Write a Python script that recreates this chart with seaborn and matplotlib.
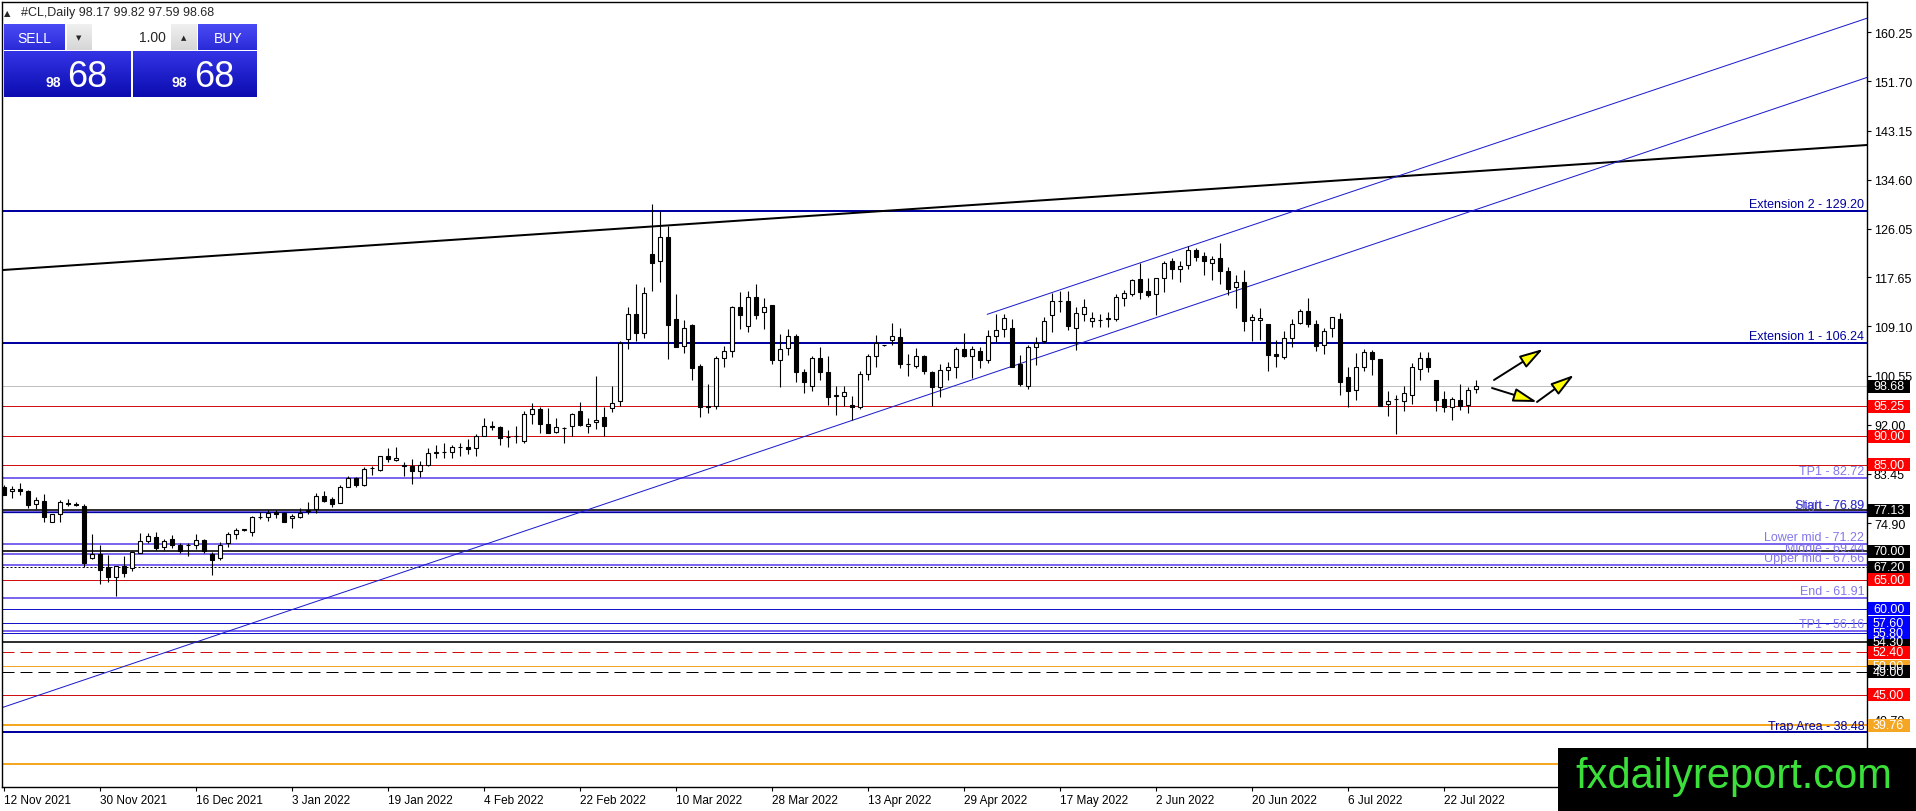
# #CL daily chart (MT4 style) recreated with seaborn / matplotlib
import numpy as np
import pandas as pd
import matplotlib
matplotlib.use("Agg")
import matplotlib.pyplot as plt
import matplotlib.transforms as mtransforms
from matplotlib.patches import Rectangle
from matplotlib.colors import LinearSegmentedColormap
import seaborn as sns

W, H = 1916, 812

# --- candle data, one value per trading day ---
opens = [81.2, 80.5, 80.9, 80.5, 78.3, 78.7, 75.1, 76.5, 78.4, 78.2,
         77.9, 68.9, 69.6, 67.2, 65.6, 67.4, 67.0, 69.7, 71.7, 72.4,
         70.7, 72.1, 71.1, 71.0, 71.1, 72.0, 69.5, 68.9, 71.4, 73.0,
         73.7, 73.3, 75.9, 75.9, 76.8, 76.65, 75.7, 75.9, 77.0, 77.35,
         79.55, 79.0, 78.4, 81.2, 82.7, 81.5, 84.4, 84.2, 86.5, 85.9,
         85.0, 84.9, 84.0, 85.0, 87.1, 87.2, 87.3, 88.1, 88.2, 87.9,
         90.1, 91.7, 91.55, 89.8, 90.0, 89.2, 93.9, 94.7, 92.1, 90.7,
         91.4, 91.7, 94.45, 91.7, 92.4, 93.3, 94.9, 96.1, 106.9, 111.3,
         107.9, 121.7, 120.5, 124.6, 110.4, 105.75, 109.3, 102.3, 95.0, 95.2,
         103.6, 104.9, 112.5, 109.1, 114.3, 111.55, 112.8, 103.3, 105.3, 107.4,
         101.1, 98.8, 103.55, 101.1, 97.0, 97.05, 95.4, 95.0, 100.8, 104.0,
         105.8, 106.8, 107.2, 102.6, 102.3, 103.9, 101.2, 98.5, 101.6, 102.0,
         105.2, 103.9, 104.8, 103.3, 107.4, 108.65, 108.9, 102.6, 98.8, 105.5,
         106.6, 111.0, 113.45, 113.5, 108.9, 111.3, 110.1, 110.3, 110.4, 110.4,
         114.0, 114.7, 117.35, 115.3, 114.7, 117.5, 120.5, 119.1, 119.7, 122.4,
         121.3, 120.1, 121.0, 118.8, 115.9, 116.8, 110.3, 110.15, 109.6, 104.3,
         103.8, 107.1, 109.75, 111.7, 109.6, 105.9, 108.8, 110.4, 100.25, 98.1,
         102.1, 104.7, 103.4, 95.6, 96.5, 96.2, 97.2, 101.7, 103.6, 99.8,
         96.5, 95.0, 96.3, 95.5, 98.17]
highs = [81.5, 81.4, 81.8, 80.6, 79.4, 80.0, 76.5, 78.9, 79.1, 78.5,
         78.2, 73.0, 71.1, 69.3, 67.5, 69.2, 70.1, 73.2, 73.2, 73.3,
         72.2, 72.8, 71.5, 71.5, 73.0, 72.2, 69.9, 71.6, 73.3, 74.0,
         73.9, 76.2, 76.8, 77.1, 77.2, 76.9, 76.5, 77.6, 78.5, 80.2,
         80.4, 79.4, 81.5, 83.1, 82.9, 84.6, 84.9, 86.5, 87.9, 88.1,
         85.5, 86.0, 85.75, 87.9, 88.5, 88.8, 88.5, 88.8, 89.6, 90.4,
         93.1, 92.7, 91.7, 91.0, 91.7, 94.4, 95.7, 95.1, 94.9, 93.2,
         91.6, 94.0, 95.9, 93.2, 100.4, 95.0, 98.8, 106.6, 112.4, 116.5,
         115.9, 130.4, 129.2, 126.6, 114.7, 110.2, 109.5, 102.6, 99.0, 104.0,
         105.75, 112.7, 115.0, 115.2, 116.5, 114.0, 112.8, 107.8, 108.65, 107.8,
         101.7, 103.9, 105.5, 103.9, 98.8, 98.7, 97.05, 101.4, 104.3, 107.6,
         105.9, 109.7, 108.8, 104.3, 105.3, 104.1, 101.4, 102.6, 102.9, 105.6,
         108.0, 105.75, 105.6, 108.5, 111.3, 111.3, 110.4, 104.2, 105.9, 107.2,
         110.7, 114.9, 115.3, 115.3, 112.4, 113.9, 111.55, 111.3, 111.55, 114.7,
         115.4, 117.35, 120.1, 117.6, 117.5, 120.5, 121.0, 120.4, 123.0, 122.7,
         122.0, 121.4, 123.55, 119.4, 118.1, 118.9, 111.3, 112.25, 109.6, 106.7,
         108.35, 110.4, 112.1, 114.0, 110.2, 108.9, 110.7, 111.4, 102.0, 104.4,
         105.2, 105.0, 103.4, 97.9, 97.1, 98.8, 102.7, 104.6, 104.6, 99.8,
         97.9, 96.8, 99.0, 98.5, 99.82]
lows = [79.7, 79.2, 79.8, 77.5, 77.3, 75.1, 75.0, 75.1, 77.9, 77.8,
        67.2, 68.7, 64.3, 64.7, 62.3, 65.6, 66.6, 69.7, 71.4, 70.3,
        70.3, 70.5, 69.7, 69.2, 70.4, 69.7, 65.9, 68.5, 70.8, 72.2,
        73.6, 72.7, 75.6, 75.3, 75.7, 75.0, 74.1, 75.7, 76.4, 76.65,
        78.5, 77.75, 78.4, 81.1, 81.2, 81.4, 83.3, 84.0, 85.6, 85.75,
        83.0, 81.7, 82.85, 84.9, 86.2, 86.2, 86.2, 86.5, 86.9, 86.6,
        90.0, 91.1, 88.4, 88.2, 88.9, 88.9, 92.1, 90.5, 90.5, 90.5,
        88.9, 90.1, 91.8, 90.5, 91.3, 90.1, 94.3, 95.3, 105.2, 106.5,
        107.1, 115.3, 116.9, 103.4, 105.6, 104.4, 99.7, 93.4, 94.0, 94.7,
        102.1, 103.8, 108.6, 108.2, 110.4, 108.65, 102.6, 98.5, 104.1, 99.5,
        97.5, 97.9, 99.7, 95.4, 93.7, 95.3, 92.9, 94.7, 99.7, 102.0,
        105.7, 105.9, 101.8, 100.4, 101.8, 100.8, 95.3, 96.9, 99.7, 100.2,
        103.7, 100.2, 101.8, 102.7, 106.45, 107.2, 102.0, 98.8, 98.2, 102.45,
        106.3, 108.1, 111.55, 108.4, 105.0, 110.1, 109.05, 109.05, 109.05, 110.1,
        112.7, 114.45, 113.9, 114.3, 111.0, 115.0, 117.35, 116.9, 119.1, 120.5,
        118.1, 117.2, 116.5, 114.6, 112.3, 108.25, 106.6, 106.8, 101.4, 102.1,
        103.4, 105.5, 109.5, 109.05, 104.9, 104.3, 107.2, 97.2, 95.0, 96.3,
        101.4, 100.7, 95.3, 93.6, 90.4, 94.45, 95.6, 99.7, 101.1, 94.45,
        94.2, 92.8, 94.55, 94.0, 97.59]
closes = [79.8, 80.9, 80.5, 78.0, 78.9, 75.9, 76.5, 78.5, 78.3, 78.1,
          68.0, 69.5, 66.8, 65.6, 67.4, 66.2, 69.8, 71.8, 72.6, 70.5,
          71.8, 71.0, 70.1, 71.1, 72.0, 70.1, 68.4, 71.1, 73.0, 73.75,
          73.8, 75.9, 76.0, 76.6, 76.4, 75.1, 76.1, 76.65, 77.1, 79.55,
          78.8, 78.2, 81.1, 82.7, 81.5, 84.3, 84.5, 86.5, 86.0, 86.3,
          84.85, 84.0, 85.0, 87.1, 87.2, 87.3, 88.1, 88.2, 87.8, 90.1,
          91.8, 91.6, 89.7, 89.9, 90.1, 93.9, 94.7, 92.1, 90.5, 91.6,
          91.5, 93.9, 92.0, 92.1, 92.8, 91.8, 95.7, 106.2, 111.3, 107.9,
          114.9, 120.2, 124.6, 109.4, 105.6, 108.9, 101.9, 95.0, 95.3, 103.6,
          104.8, 112.4, 111.1, 114.2, 111.0, 112.4, 103.3, 105.2, 107.4, 101.1,
          99.4, 103.55, 101.1, 96.9, 97.1, 97.75, 95.0, 100.9, 104.0, 106.2,
          105.8, 107.4, 102.6, 102.5, 103.9, 101.4, 98.5, 101.6, 102.0, 105.2,
          104.0, 105.1, 103.3, 107.4, 108.4, 110.5, 102.1, 99.1, 105.5, 106.3,
          110.0, 113.6, 113.5, 109.2, 111.4, 112.5, 110.5, 110.2, 110.5, 114.2,
          114.9, 117.2, 115.0, 114.6, 117.5, 120.2, 119.1, 119.55, 122.4, 121.2,
          120.4, 120.8, 118.8, 115.6, 116.9, 110.1, 110.8, 110.6, 104.2, 103.9,
          107.0, 109.6, 111.7, 109.5, 105.75, 108.25, 110.7, 99.4, 97.9, 102.0,
          104.6, 103.4, 95.3, 96.2, 96.5, 97.5, 102.0, 103.6, 102.1, 96.3,
          95.0, 96.5, 95.3, 98.0, 98.68]

date_labels = ["12 Nov 2021", "30 Nov 2021", "16 Dec 2021", "3 Jan 2022",
               "19 Jan 2022", "4 Feb 2022", "22 Feb 2022", "10 Mar 2022",
               "28 Mar 2022", "13 Apr 2022", "29 Apr 2022", "17 May 2022",
               "2 Jun 2022", "20 Jun 2022", "6 Jul 2022", "22 Jul 2022"]
label_step = 12

price_ticks = [160.25, 151.70, 143.15, 134.60, 126.05, 117.65, 109.10, 100.55,
               92.00, 83.45, 74.90, 66.35, 57.80, 49.25, 40.70]

# --- horizontal levels ---
extension_levels = [129.20, 106.24]
extension_names = ["Extension 2 - 129.20", "Extension 1 - 106.24"]
fib_levels = [82.72, 76.89, 71.22, 69.44, 67.66, 61.91, 56.16]
fib_names = ["TP1 - 82.72", "High - 76.89", "Lower mid - 71.22", "Middle - 69.44",
             "Upper mid - 67.66", "End - 61.91", "TP1 - 56.16"]
start_level, start_name = 76.89, "Start - 76.89"
trap_level, trap_name = 38.48, "Trap Area - 38.48"
red_levels = [95.25, 90.00, 85.00, 65.00, 45.00]
red_dashed_levels = [52.40]
black_levels = [77.13, 70.00, 54.30]
black_dotted_levels = [67.20]
black_dashed_levels = [49.00]
blue_levels = [60.00, 57.60, 55.80]
orange_thin_levels = [50.00]
orange_levels = [39.76, 33.05]
current_price = 98.68

# --- trend lines (two anchor points each: bar index, price) ---
arc_x, arc_y = [-0.25, 232.875], [118.9, 140.65]
channel_low_x, channel_low_y = [-0.25, 232.875], [42.8, 152.4]
channel_high_x, channel_high_y = [122.9, 232.875], [111.2, 162.7]

# yellow arrows: (tail, head)
arrow_tails = [(186.25, 99.78), (186.0, 98.39), (191.625, 95.96)]
arrow_heads = [(192.375, 105.17), (191.625, 95.96), (196.25, 100.65)]

header = "#CL,Daily 98.17 99.82 97.59 98.68"

# ------------------------------------------------------------------
sns.set_theme(style="ticks", rc={"axes.edgecolor": "black", "axes.linewidth": 1.0,
                                 "xtick.color": "black", "ytick.color": "black"})
plt.rcParams['font.family'] = ['Liberation Sans', 'DejaVu Sans']

NAVY = "#0000a0"
PURPLE = "#7b68ee"
RED_LINE = "#d01010"
RED_BOX = "#ff0000"
BLUE_LINE = "#1414c8"
BLUE_BOX = "#0000ff"
ORANGE = "#f5a623"
PX = 0.72  # one pixel in points

fig = plt.figure(figsize=(W / 100, H / 100), dpi=100)
ax = fig.add_axes([2 / W, (H - 788) / H, (1867 - 2) / W, (788 - 3) / H])
ax.set_facecolor("white")
ax.set_xlim(-0.25, 232.875)
ax.set_ylim(29.0, 165.52)

df = pd.DataFrame({"open": opens, "high": highs, "low": lows, "close": closes})
df["i"] = np.arange(len(df))
up = df["close"] >= df["open"]
body_low = df[["open", "close"]].min(axis=1)
body_h = (df["close"] - df["open"]).abs().clip(lower=0.06)

# horizontal lines
for v in red_levels:
    ax.axhline(v, color=RED_LINE, lw=PX, zorder=1)
for v in red_dashed_levels:
    ax.axhline(v, color=RED_LINE, lw=PX, ls=(0, (12, 6)), zorder=1)
for v in blue_levels:
    ax.axhline(v, color=BLUE_LINE, lw=PX, zorder=1)
for v in orange_thin_levels:
    ax.axhline(v, color=ORANGE, lw=PX, zorder=1)
for v in orange_levels:
    ax.axhline(v, color=ORANGE, lw=2 * PX, zorder=1)
for v in fib_levels:
    ax.axhline(v, color=PURPLE, lw=2 * PX, zorder=1)
ax.axhline(start_level, color=NAVY, lw=1.3 * PX, zorder=1.1)
ax.axhline(trap_level, color=NAVY, lw=2 * PX, zorder=1)
for v in extension_levels:
    ax.axhline(v, color=NAVY, lw=2 * PX, zorder=1)
for v in black_levels:
    ax.axhline(v, color="black", lw=1.6 * PX, zorder=1.2)
for v in black_dotted_levels:
    ax.axhline(v, color="black", lw=PX, ls=(0, (2, 2)), zorder=1)
for v in black_dashed_levels:
    ax.axhline(v, color="black", lw=PX, ls=(0, (12, 6)), zorder=1)
ax.axhline(current_price, color="#c0c0c0", lw=PX, zorder=0.9)

# trend lines
sns.lineplot(x=arc_x, y=arc_y, ax=ax, color="black", lw=2 * PX, zorder=2)
sns.lineplot(x=channel_low_x, y=channel_low_y, ax=ax, color="#1a1acd", lw=PX, zorder=2)
sns.lineplot(x=channel_high_x, y=channel_high_y, ax=ax, color="#1a1acd", lw=PX, zorder=2)

# candles
ax.vlines(df["i"], df["low"], df["high"], color="black", lw=1.1 * PX, zorder=3)
ax.bar(df["i"], body_h, bottom=body_low, width=0.55,
       color=np.where(up, "white", "black"), edgecolor="black",
       linewidth=1.1 * PX, zorder=4)

# level labels (right aligned, above the line)
def level_label(v, text, color):
    ax.annotate(text, xy=(1, v), xycoords=("axes fraction", "data"),
                xytext=(-2, 0.6), textcoords="offset points",
                ha="right", va="bottom", fontsize=9, color=color, zorder=5)

for v, t in zip(extension_levels, extension_names):
    level_label(v, t, NAVY)
for v, t in zip(fib_levels, fib_names):
    level_label(v, t, "#8377ea")
level_label(start_level, start_name, "#3b3bc8")
level_label(trap_level, trap_name, NAVY)

# arrows
for tail, head in zip(arrow_tails, arrow_heads):
    ax.annotate("", xy=head, xytext=tail,
                arrowprops=dict(arrowstyle="-|>,head_length=1.2,head_width=0.35",
                                facecolor="yellow", edgecolor="black", lw=1.4,
                                mutation_scale=12, shrinkA=0, shrinkB=0), zorder=6)

# axes / ticks
ax.yaxis.tick_right()
ax.set_yticks(price_ticks)
ax.set_yticklabels([f"{t:.2f}" for t in price_ticks])
ax.set_xticks(np.arange(len(date_labels)) * label_step)
ax.set_xticklabels(date_labels)
for lab in ax.get_xticklabels():
    lab.set_horizontalalignment("left")
ax.tick_params(axis="y", which="both", left=False, right=True, direction="out",
               length=3, width=0.8, pad=2, labelsize=9)
ax.tick_params(axis="x", bottom=True, direction="out", length=3, width=0.8,
               pad=2, labelsize=8.5)
for s in ax.spines.values():
    s.set_visible(True)
    s.set_color("black")
    s.set_linewidth(1.0)
ax.set_xlabel("")
ax.set_ylabel("")

# price boxes on the right scale
tr = mtransforms.blended_transform_factory(fig.transFigure, ax.transData)
box_h = 13 / 5.75

def price_box(v, color, txt_color="white"):
    ax.add_patch(Rectangle((1868 / W, v - box_h / 2), 42 / W, box_h, transform=tr,
                           facecolor=color, edgecolor="none", clip_on=False, zorder=10))
    ax.text(1873 / W, v, f"{v:.2f}", transform=tr, color=txt_color, fontsize=9,
            ha="left", va="center", clip_on=False, zorder=11)

price_box(current_price, "black")
for v in red_levels[:3]:
    price_box(v, RED_BOX)
price_box(black_levels[0], "black")
price_box(black_levels[1], "black")
price_box(black_dotted_levels[0], "black")
price_box(red_levels[3], RED_BOX)
price_box(blue_levels[0], BLUE_BOX)
price_box(blue_levels[1], BLUE_BOX)
price_box(black_levels[2], "black")
price_box(blue_levels[2], BLUE_BOX)
price_box(red_dashed_levels[0], RED_BOX)
price_box(orange_thin_levels[0], ORANGE)
price_box(black_dashed_levels[0], "black")
price_box(red_levels[4], RED_BOX)
price_box(orange_levels[0], ORANGE)

# header line
fig.text(4 / W, 1 - 14 / H, "\u25b2", fontsize=6, family="DejaVu Sans", va="center")
fig.text(21 / W, 1 - 13 / H, header, fontsize=9, va="center")

# one-click trading panel
def grad_box(x0, y0, x1, y1, c_top, c_bot):
    a = fig.add_axes([x0 / W, 1 - y1 / H, (x1 - x0) / W, (y1 - y0) / H])
    cmap = LinearSegmentedColormap.from_list("g", [c_top, c_bot])
    a.imshow(np.linspace(0, 1, 64).reshape(-1, 1), aspect="auto", cmap=cmap,
             extent=(0, 1, 0, 1))
    a.set_axis_off()
    return a

def ftext(x, y, s, **kw):
    fig.text(x / W, 1 - y / H, s, **kw)

grad_box(4, 25, 65, 51, "#4b4bf5", "#2a2ad8")
grad_box(198, 25, 257, 51, "#4b4bf5", "#2a2ad8")
grad_box(67, 25, 92, 51, "#f0f0f0", "#d6d6d6")
grad_box(93, 25, 170, 51, "#ffffff", "#ffffff")
grad_box(171, 25, 197, 51, "#f0f0f0", "#d6d6d6")
grad_box(4, 52, 131, 98, "#3434e6", "#0c0cb0")
grad_box(133, 52, 257, 98, "#3434e6", "#0c0cb0")

ftext(34, 39, "SELL", fontsize=10, color="white", ha="center", va="center")
ftext(228, 39, "BUY", fontsize=10, color="white", ha="center", va="center")
ftext(79, 38, "\u25bc", fontsize=5, family="DejaVu Sans", ha="center", va="center")
ftext(184, 38, "\u25b2", fontsize=5, family="DejaVu Sans", ha="center", va="center")
ftext(166, 38, "1.00", fontsize=10, ha="right", va="center")
for xs, xb in [(46, 67), (172, 194)]:
    ftext(xs, 87, "98", fontsize=10, fontweight="bold", color="white", va="baseline")
    ftext(xb, 87, "68", fontsize=26, color="white", va="baseline")

# watermark
fig.patches.append(Rectangle((1558 / W, 0), (W - 1558) / W, (H - 749) / H,
                             transform=fig.transFigure, facecolor="black",
                             edgecolor="none", zorder=5))
fig.text(1575 / W, (H - 788) / H, "fxdailyreport.com", fontsize=30,
         color="#3be03b", family="Liberation Sans", va="baseline", zorder=6)

fig.savefig("out.png", dpi=100)
